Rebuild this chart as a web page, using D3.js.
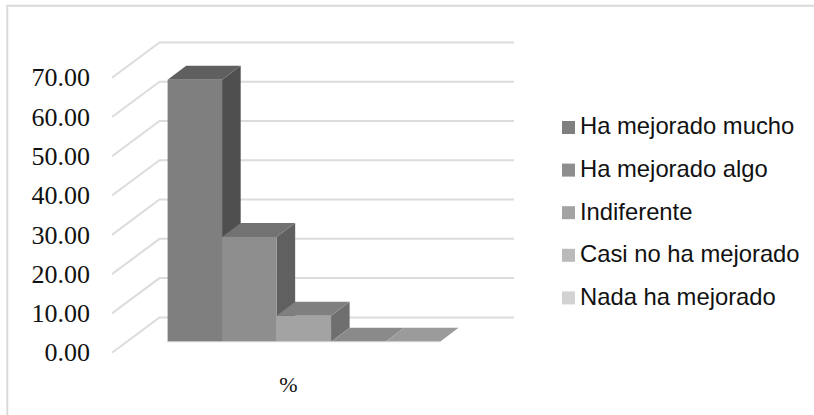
<!DOCTYPE html>
<html><head><meta charset="utf-8">
<script src="https://cdn.jsdelivr.net/npm/d3@7"></script>
<style>html,body{margin:0;padding:0;background:#fff}svg{display:block}</style></head>
<body><svg id="c" width="814" height="415"></svg>
<script>
const categories = ["%"];
const seriesNames = ["Ha mejorado mucho","Ha mejorado algo","Indiferente","Casi no ha mejorado","Nada ha mejorado"];
const seriesValues = [66.7,26.7,6.6,0,0];
const tickValues = [0,10,20,30,40,50,60,70];
const frontColors = ["#7f7f7f","#8e8e8e","#a3a3a3","#bababa","#d2d2d2"];
const sideColors = ["#4f4f4f","#606060","#6f6f6f","#7d7d7d","#8d8d8d"];
const topColors = ["#5f5f5f","#727272","#7f7f7f","#8a8a8a","#9b9b9b"];

const svg = d3.select("#c");
svg.append("path").attr("d","M814,5.7L7.3,5.7L7.3,415").attr("fill","none").attr("stroke","#d9d9d9").attr("stroke-width",2);

const y = d3.scaleLinear().domain([0,70]).range([352.7,77.7]);
const wallDx = 47.5, wallDy = -35.3, wallRight = 514;
const grid = svg.append("g");
tickValues.forEach(t=>{
  grid.append("path")
   .attr("d",`M${112},${y(t)}L${112+wallDx},${y(t)+wallDy}L${wallRight},${y(t)+wallDy}`)
   .attr("fill","none").attr("stroke","#dcdcdc").attr("stroke-width",2);
});

const x = d3.scaleBand().domain(seriesNames).range([167.6,440]).padding(0);
const base = 341.8, dx = 18.6, dy = -14;
const h = v => y(0)-y(v);
const bars = svg.append("g");
seriesNames.forEach((s,i)=>{
  const x0=x(s), x1=x0+x.bandwidth(), top=base-h(seriesValues[i]);
  const g = bars.append("g");
  if(seriesValues[i]>0){
    g.append("path").attr("d",`M${x1},${base}L${x1+dx},${base+dy}L${x1+dx},${top+dy}L${x1},${top}Z`).attr("fill",sideColors[i]);
  }
  g.append("path").attr("d",`M${x0},${top}L${x0+dx},${top+dy}L${x1+dx},${top+dy}L${x1},${top}Z`).attr("fill",topColors[i]);
  if(seriesValues[i]>0){
    g.append("rect").attr("x",x0).attr("y",top).attr("width",x.bandwidth()).attr("height",base-top).attr("fill",frontColors[i]);
  }
});
svg.append("line").attr("x1",167.6).attr("x2",440).attr("y1",base).attr("y2",base).attr("stroke","#d9d9d9").attr("stroke-width",1);

const serif = "'Liberation Serif','Times New Roman',serif", sans = "'Liberation Sans',Arial,sans-serif";
const labels = svg.append("g").attr("font-family",serif).attr("font-size",26).attr("fill","#111");
tickValues.forEach(t=>{
  labels.append("text").attr("x",90).attr("y",y(t)+8.7).attr("text-anchor","end").text(d3.format(".2f")(t));
});
svg.append("text").attr("x",288.5).attr("y",391.5).attr("text-anchor","middle").attr("font-family",serif).attr("font-size",22).attr("fill","#111").text(categories[0]);

const leg = svg.append("g");
seriesNames.forEach((s,i)=>{
  leg.append("rect").attr("x",562).attr("y",121+i*42.6).attr("width",13).attr("height",13).attr("fill",frontColors[i]);
  leg.append("text").attr("x",580).attr("y",134.3+i*42.7).attr("font-family",sans).attr("font-size",23.8).attr("fill","#111").text(s);
});
</script></body></html>
